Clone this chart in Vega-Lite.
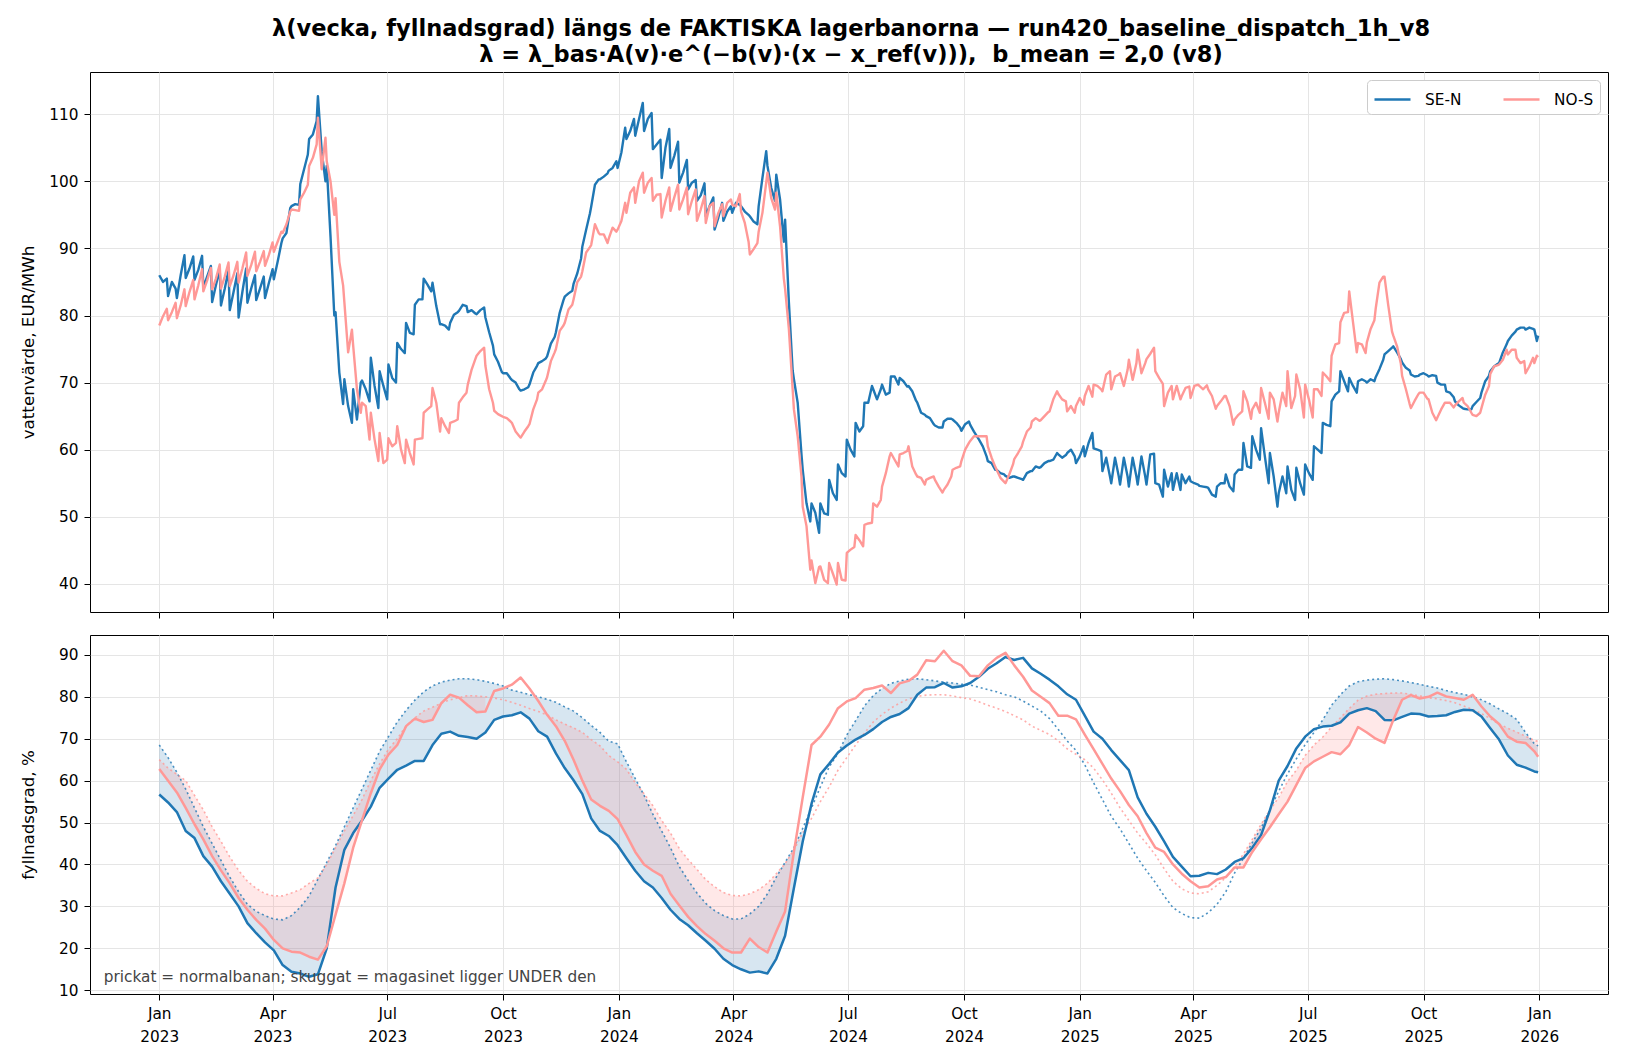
{
  "$schema": "https://vega.github.io/schema/vega-lite/v6.json",
  "background": "white",
  "padding": {"left": 19, "top": 18, "right": 0, "bottom": 0},
  "config": {
    "font": "DejaVu Sans",
    "view": {"stroke": "black", "strokeWidth": 1},
    "axis": {
      "domain": false, "tickColor": "black", "tickSize": 6, "labelPadding": 6,
      "labelFontSize": 15.3, "labelColor": "black", "labelFont": "DejaVu Sans",
      "titleFontSize": 16.7, "titleFontWeight": "normal", "titleColor": "black", "titleFont": "DejaVu Sans", "titlePadding": 8,
      "gridColor": "#e5e5e5", "gridWidth": 1
    }
  },
  "title": {
    "text": ["λ(vecka, fyllnadsgrad) längs de FAKTISKA lagerbanorna — run420_baseline_dispatch_1h_v8", "λ = λ_bas·A(v)·e^(−b(v)·(x − x_ref(v))),\u00a0 b_mean = 2,0 (v8)"],
    "fontSize": 22.5, "fontWeight": "bold", "lineHeight": 26, "anchor": "middle", "dx": 37, "offset": 5, "color": "black", "font": "DejaVu Sans"
  },
  "spacing": 15,
  "datasets": {
    "top": [
      {"t":"2023-01-01","SE-N":86.0,"NO-S":78.5},{"t":"2023-01-04","SE-N":85.0,"NO-S":79.9},{"t":"2023-01-07","SE-N":85.5,"NO-S":81.0},
      {"t":"2023-01-08","SE-N":82.9,"NO-S":79.3},{"t":"2023-01-11","SE-N":85.0,"NO-S":80.5},{"t":"2023-01-14","SE-N":84.0,"NO-S":81.9},
      {"t":"2023-01-15","SE-N":82.6,"NO-S":79.6},{"t":"2023-01-18","SE-N":86.0,"NO-S":81.5},{"t":"2023-01-21","SE-N":89.0,"NO-S":83.9},
      {"t":"2023-01-22","SE-N":85.6,"NO-S":81.4},{"t":"2023-01-25","SE-N":87.0,"NO-S":83.5},{"t":"2023-01-28","SE-N":88.8,"NO-S":85.3},
      {"t":"2023-01-29","SE-N":85.3,"NO-S":82.4},{"t":"2023-02-01","SE-N":86.8,"NO-S":84.5},{"t":"2023-02-04","SE-N":88.9,"NO-S":86.9},
      {"t":"2023-02-05","SE-N":84.2,"NO-S":83.6},{"t":"2023-02-08","SE-N":85.8,"NO-S":85.2},{"t":"2023-02-11","SE-N":87.4,"NO-S":87.1},
      {"t":"2023-02-12","SE-N":82.0,"NO-S":83.9},{"t":"2023-02-15","SE-N":84.5,"NO-S":85.5},{"t":"2023-02-18","SE-N":86.9,"NO-S":87.6},
      {"t":"2023-02-19","SE-N":81.5,"NO-S":84.0},{"t":"2023-02-22","SE-N":84.0,"NO-S":85.8},{"t":"2023-02-25","SE-N":86.8,"NO-S":87.9},
      {"t":"2023-02-26","SE-N":80.8,"NO-S":84.4},{"t":"2023-03-01","SE-N":83.5,"NO-S":86.0},{"t":"2023-03-04","SE-N":86.3,"NO-S":88.0},
      {"t":"2023-03-05","SE-N":79.7,"NO-S":84.9},{"t":"2023-03-08","SE-N":83.5,"NO-S":87.0},{"t":"2023-03-11","SE-N":87.0,"NO-S":89.4},
      {"t":"2023-03-12","SE-N":81.9,"NO-S":85.9},{"t":"2023-03-15","SE-N":84.0,"NO-S":87.5},{"t":"2023-03-18","SE-N":86.0,"NO-S":89.5},
      {"t":"2023-03-19","SE-N":82.3,"NO-S":86.6},{"t":"2023-03-22","SE-N":84.0,"NO-S":88.0},{"t":"2023-03-25","SE-N":85.8,"NO-S":89.6},
      {"t":"2023-03-26","SE-N":82.6,"NO-S":87.4},{"t":"2023-03-29","SE-N":84.8,"NO-S":89.0},{"t":"2023-04-01","SE-N":86.9,"NO-S":90.9},
      {"t":"2023-04-02","SE-N":85.4,"NO-S":89.5},{"t":"2023-04-05","SE-N":88.0,"NO-S":91.0},{"t":"2023-04-08","SE-N":90.8,"NO-S":92.5},
      {"t":"2023-04-09","SE-N":91.5,"NO-S":92.3},{"t":"2023-04-12","SE-N":92.3,"NO-S":93.6},{"t":"2023-04-15","SE-N":96.0,"NO-S":95.5},
      {"t":"2023-04-16","SE-N":96.3,"NO-S":95.8},{"t":"2023-04-19","SE-N":96.6,"NO-S":95.7},{"t":"2023-04-22","SE-N":96.5,"NO-S":95.6},
      {"t":"2023-04-23","SE-N":99.6,"NO-S":97.3},{"t":"2023-04-26","SE-N":101.8,"NO-S":98.3},{"t":"2023-04-29","SE-N":104.0,"NO-S":99.5},
      {"t":"2023-04-30","SE-N":106.3,"NO-S":102.3},{"t":"2023-05-03","SE-N":107.0,"NO-S":103.5},{"t":"2023-05-06","SE-N":109.0,"NO-S":105.5},
      {"t":"2023-05-07","SE-N":112.7,"NO-S":109.5},{"t":"2023-05-10","SE-N":104.5,"NO-S":101.8},{"t":"2023-05-13","SE-N":100.0,"NO-S":106.5},
      {"t":"2023-05-14","SE-N":102.3,"NO-S":103.0},{"t":"2023-05-17","SE-N":91.8,"NO-S":100.0},{"t":"2023-05-20","SE-N":80.0,"NO-S":95.0},
      {"t":"2023-05-21","SE-N":80.5,"NO-S":97.5},{"t":"2023-05-24","SE-N":71.5,"NO-S":88.0},{"t":"2023-05-27","SE-N":66.8,"NO-S":84.5},
      {"t":"2023-05-28","SE-N":70.5,"NO-S":82.0},{"t":"2023-05-31","SE-N":66.5,"NO-S":74.5},{"t":"2023-06-03","SE-N":64.0,"NO-S":77.9},
      {"t":"2023-06-04","SE-N":69.0,"NO-S":75.5},{"t":"2023-06-07","SE-N":64.5,"NO-S":69.0},{"t":"2023-06-10","SE-N":70.0,"NO-S":65.5},
      {"t":"2023-06-11","SE-N":70.3,"NO-S":67.0},{"t":"2023-06-14","SE-N":69.0,"NO-S":66.5},{"t":"2023-06-17","SE-N":67.2,"NO-S":61.5},
      {"t":"2023-06-18","SE-N":73.7,"NO-S":65.5},{"t":"2023-06-21","SE-N":69.5,"NO-S":61.5},{"t":"2023-06-24","SE-N":66.2,"NO-S":58.3},
      {"t":"2023-06-25","SE-N":71.7,"NO-S":62.5},{"t":"2023-06-28","SE-N":69.5,"NO-S":58.0},{"t":"2023-07-01","SE-N":67.5,"NO-S":58.5},
      {"t":"2023-07-02","SE-N":72.7,"NO-S":61.7},{"t":"2023-07-05","SE-N":70.7,"NO-S":60.5},{"t":"2023-07-08","SE-N":70.0,"NO-S":61.0},
      {"t":"2023-07-09","SE-N":75.9,"NO-S":63.5},{"t":"2023-07-12","SE-N":75.0,"NO-S":60.0},{"t":"2023-07-15","SE-N":74.4,"NO-S":58.0},
      {"t":"2023-07-16","SE-N":78.9,"NO-S":61.5},{"t":"2023-07-19","SE-N":77.4,"NO-S":59.5},{"t":"2023-07-22","SE-N":77.2,"NO-S":57.8},
      {"t":"2023-07-23","SE-N":81.6,"NO-S":61.5},{"t":"2023-07-26","SE-N":82.4,"NO-S":61.6},{"t":"2023-07-29","SE-N":82.4,"NO-S":61.7},
      {"t":"2023-07-30","SE-N":85.5,"NO-S":65.5},{"t":"2023-08-02","SE-N":84.6,"NO-S":66.0},{"t":"2023-08-05","SE-N":83.6,"NO-S":66.5},
      {"t":"2023-08-06","SE-N":84.9,"NO-S":69.2},{"t":"2023-08-09","SE-N":81.4,"NO-S":67.0},{"t":"2023-08-12","SE-N":78.7,"NO-S":62.7},
      {"t":"2023-08-13","SE-N":78.7,"NO-S":64.7},{"t":"2023-08-16","SE-N":78.5,"NO-S":63.5},{"t":"2023-08-19","SE-N":77.9,"NO-S":62.5},
      {"t":"2023-08-20","SE-N":78.9,"NO-S":64.0},{"t":"2023-08-23","SE-N":80.1,"NO-S":64.2},{"t":"2023-08-26","SE-N":80.5,"NO-S":64.5},
      {"t":"2023-08-27","SE-N":80.7,"NO-S":67.0},{"t":"2023-08-30","SE-N":81.6,"NO-S":67.8},{"t":"2023-09-02","SE-N":81.4,"NO-S":68.5},
      {"t":"2023-09-03","SE-N":80.5,"NO-S":69.7},{"t":"2023-09-06","SE-N":80.8,"NO-S":71.9},{"t":"2023-09-09","SE-N":80.3,"NO-S":73.5},
      {"t":"2023-09-10","SE-N":80.2,"NO-S":74.0},{"t":"2023-09-13","SE-N":80.8,"NO-S":74.7},{"t":"2023-09-16","SE-N":81.2,"NO-S":75.2},
      {"t":"2023-09-17","SE-N":79.7,"NO-S":72.5},{"t":"2023-09-20","SE-N":77.5,"NO-S":69.0},{"t":"2023-09-23","SE-N":75.5,"NO-S":67.0},
      {"t":"2023-09-24","SE-N":74.2,"NO-S":65.8},{"t":"2023-09-27","SE-N":73.1,"NO-S":65.3},{"t":"2023-09-30","SE-N":71.6,"NO-S":65.0},
      {"t":"2023-10-01","SE-N":71.4,"NO-S":64.9},{"t":"2023-10-04","SE-N":71.4,"NO-S":64.7},{"t":"2023-10-07","SE-N":70.6,"NO-S":64.2},
      {"t":"2023-10-08","SE-N":70.4,"NO-S":64.0},{"t":"2023-10-11","SE-N":70.0,"NO-S":62.7},{"t":"2023-10-14","SE-N":69.0,"NO-S":62.0},
      {"t":"2023-10-15","SE-N":68.8,"NO-S":61.8},{"t":"2023-10-18","SE-N":69.0,"NO-S":62.7},{"t":"2023-10-21","SE-N":69.3,"NO-S":63.5},
      {"t":"2023-10-22","SE-N":69.7,"NO-S":63.8},{"t":"2023-10-25","SE-N":71.5,"NO-S":66.0},{"t":"2023-10-28","SE-N":72.5,"NO-S":67.5},
      {"t":"2023-10-29","SE-N":72.9,"NO-S":68.5},{"t":"2023-11-01","SE-N":73.2,"NO-S":69.0},{"t":"2023-11-04","SE-N":73.6,"NO-S":70.3},
      {"t":"2023-11-05","SE-N":73.9,"NO-S":70.8},{"t":"2023-11-08","SE-N":75.8,"NO-S":73.2},{"t":"2023-11-11","SE-N":76.8,"NO-S":74.5},
      {"t":"2023-11-12","SE-N":77.5,"NO-S":75.0},{"t":"2023-11-15","SE-N":80.4,"NO-S":77.7},{"t":"2023-11-18","SE-N":82.3,"NO-S":78.5},
      {"t":"2023-11-19","SE-N":82.8,"NO-S":78.9},{"t":"2023-11-22","SE-N":83.3,"NO-S":80.9},{"t":"2023-11-25","SE-N":83.7,"NO-S":81.6},
      {"t":"2023-11-26","SE-N":84.7,"NO-S":82.4},{"t":"2023-11-29","SE-N":86.3,"NO-S":85.0},{"t":"2023-12-02","SE-N":88.5,"NO-S":85.8},
      {"t":"2023-12-03","SE-N":90.3,"NO-S":86.6},{"t":"2023-12-06","SE-N":92.8,"NO-S":89.4},{"t":"2023-12-09","SE-N":95.2,"NO-S":90.2},
      {"t":"2023-12-10","SE-N":96.2,"NO-S":90.5},{"t":"2023-12-13","SE-N":99.5,"NO-S":93.6},{"t":"2023-12-16","SE-N":100.3,"NO-S":92.3},
      {"t":"2023-12-17","SE-N":100.3,"NO-S":92.1},{"t":"2023-12-20","SE-N":100.7,"NO-S":92.1},{"t":"2023-12-23","SE-N":101.2,"NO-S":90.8},
      {"t":"2023-12-24","SE-N":101.6,"NO-S":91.5},{"t":"2023-12-27","SE-N":102.0,"NO-S":93.1},{"t":"2023-12-30","SE-N":103.0,"NO-S":92.5},
      {"t":"2023-12-31","SE-N":102.0,"NO-S":92.8},{"t":"2024-01-03","SE-N":104.3,"NO-S":94.1},{"t":"2024-01-06","SE-N":108.0,"NO-S":96.8},
      {"t":"2024-01-07","SE-N":106.3,"NO-S":95.3},{"t":"2024-01-10","SE-N":107.5,"NO-S":98.3},{"t":"2024-01-13","SE-N":109.3,"NO-S":99.1},
      {"t":"2024-01-14","SE-N":106.8,"NO-S":96.8},{"t":"2024-01-17","SE-N":109.3,"NO-S":100.0},{"t":"2024-01-20","SE-N":111.7,"NO-S":101.3},
      {"t":"2024-01-21","SE-N":107.5,"NO-S":98.3},{"t":"2024-01-24","SE-N":109.3,"NO-S":99.8},{"t":"2024-01-27","SE-N":110.2,"NO-S":100.5},
      {"t":"2024-01-28","SE-N":104.8,"NO-S":97.1},{"t":"2024-01-31","SE-N":105.5,"NO-S":98.0},{"t":"2024-02-03","SE-N":106.2,"NO-S":98.1},
      {"t":"2024-02-04","SE-N":100.5,"NO-S":94.6},{"t":"2024-02-07","SE-N":105.0,"NO-S":97.1},{"t":"2024-02-10","SE-N":107.8,"NO-S":99.1},
      {"t":"2024-02-11","SE-N":102.0,"NO-S":95.6},{"t":"2024-02-14","SE-N":103.8,"NO-S":97.6},{"t":"2024-02-17","SE-N":105.9,"NO-S":99.5},
      {"t":"2024-02-18","SE-N":99.8,"NO-S":95.8},{"t":"2024-02-21","SE-N":101.3,"NO-S":97.3},{"t":"2024-02-24","SE-N":103.2,"NO-S":99.1},
      {"t":"2024-02-25","SE-N":98.8,"NO-S":95.1},{"t":"2024-02-28","SE-N":99.8,"NO-S":97.1},{"t":"2024-03-02","SE-N":100.2,"NO-S":98.8},
      {"t":"2024-03-03","SE-N":97.1,"NO-S":94.1},{"t":"2024-03-06","SE-N":97.9,"NO-S":95.8},{"t":"2024-03-09","SE-N":99.7,"NO-S":97.8},
      {"t":"2024-03-10","SE-N":94.8,"NO-S":93.8},{"t":"2024-03-13","SE-N":96.3,"NO-S":96.3},{"t":"2024-03-16","SE-N":97.6,"NO-S":96.8},
      {"t":"2024-03-17","SE-N":92.8,"NO-S":93.3},{"t":"2024-03-20","SE-N":94.6,"NO-S":95.3},{"t":"2024-03-23","SE-N":96.8,"NO-S":96.6},
      {"t":"2024-03-24","SE-N":94.1,"NO-S":94.8},{"t":"2024-03-27","SE-N":95.5,"NO-S":96.8},{"t":"2024-03-30","SE-N":96.3,"NO-S":97.3},
      {"t":"2024-03-31","SE-N":95.3,"NO-S":96.5},{"t":"2024-04-03","SE-N":96.8,"NO-S":96.3},{"t":"2024-04-06","SE-N":96.5,"NO-S":98.1},
      {"t":"2024-04-07","SE-N":96.3,"NO-S":95.5},{"t":"2024-04-10","SE-N":95.5,"NO-S":93.8},{"t":"2024-04-13","SE-N":95.0,"NO-S":91.0},
      {"t":"2024-04-14","SE-N":94.8,"NO-S":89.1},{"t":"2024-04-17","SE-N":94.0,"NO-S":89.9},{"t":"2024-04-20","SE-N":93.6,"NO-S":90.8},
      {"t":"2024-04-21","SE-N":96.3,"NO-S":92.5},{"t":"2024-04-24","SE-N":100.5,"NO-S":95.3},{"t":"2024-04-27","SE-N":104.5,"NO-S":99.8},
      {"t":"2024-04-28","SE-N":102.3,"NO-S":101.3},{"t":"2024-05-01","SE-N":99.0,"NO-S":97.5},{"t":"2024-05-04","SE-N":97.1,"NO-S":95.8},
      {"t":"2024-05-05","SE-N":101.0,"NO-S":98.3},{"t":"2024-05-08","SE-N":97.3,"NO-S":93.3},{"t":"2024-05-11","SE-N":91.0,"NO-S":85.5},
      {"t":"2024-05-12","SE-N":94.3,"NO-S":84.0},{"t":"2024-05-15","SE-N":82.0,"NO-S":78.0},{"t":"2024-05-18","SE-N":71.8,"NO-S":69.0},
      {"t":"2024-05-19","SE-N":70.5,"NO-S":66.0},{"t":"2024-05-22","SE-N":67.0,"NO-S":62.0},{"t":"2024-05-25","SE-N":59.3,"NO-S":56.0},
      {"t":"2024-05-26","SE-N":57.0,"NO-S":51.5},{"t":"2024-05-29","SE-N":52.0,"NO-S":48.6},{"t":"2024-06-01","SE-N":49.3,"NO-S":42.1},
      {"t":"2024-06-02","SE-N":52.0,"NO-S":43.5},{"t":"2024-06-05","SE-N":50.6,"NO-S":40.1},{"t":"2024-06-08","SE-N":47.6,"NO-S":42.5},
      {"t":"2024-06-09","SE-N":52.0,"NO-S":42.6},{"t":"2024-06-12","SE-N":50.5,"NO-S":40.6},{"t":"2024-06-15","SE-N":50.3,"NO-S":40.1},
      {"t":"2024-06-16","SE-N":55.5,"NO-S":43.1},{"t":"2024-06-19","SE-N":53.5,"NO-S":41.5},{"t":"2024-06-22","SE-N":52.5,"NO-S":39.9},
      {"t":"2024-06-23","SE-N":57.8,"NO-S":43.1},{"t":"2024-06-26","SE-N":56.5,"NO-S":40.6},{"t":"2024-06-29","SE-N":56.0,"NO-S":40.5},
      {"t":"2024-06-30","SE-N":61.5,"NO-S":44.6},{"t":"2024-07-03","SE-N":60.0,"NO-S":45.1},{"t":"2024-07-06","SE-N":59.0,"NO-S":45.5},
      {"t":"2024-07-07","SE-N":64.0,"NO-S":47.3},{"t":"2024-07-10","SE-N":62.7,"NO-S":46.5},{"t":"2024-07-13","SE-N":63.5,"NO-S":45.6},
      {"t":"2024-07-14","SE-N":67.0,"NO-S":48.8},{"t":"2024-07-17","SE-N":67.0,"NO-S":49.0},{"t":"2024-07-20","SE-N":69.5,"NO-S":49.1},
      {"t":"2024-07-21","SE-N":69.0,"NO-S":52.0},{"t":"2024-07-24","SE-N":67.5,"NO-S":51.5},{"t":"2024-07-27","SE-N":69.0,"NO-S":52.5},
      {"t":"2024-07-28","SE-N":69.7,"NO-S":54.5},{"t":"2024-07-31","SE-N":68.2,"NO-S":56.5},{"t":"2024-08-03","SE-N":68.5,"NO-S":59.0},
      {"t":"2024-08-04","SE-N":70.9,"NO-S":59.5},{"t":"2024-08-07","SE-N":70.9,"NO-S":58.5},{"t":"2024-08-10","SE-N":69.7,"NO-S":57.5},
      {"t":"2024-08-11","SE-N":70.7,"NO-S":59.3},{"t":"2024-08-14","SE-N":70.2,"NO-S":59.5},{"t":"2024-08-17","SE-N":69.4,"NO-S":59.8},
      {"t":"2024-08-18","SE-N":69.5,"NO-S":60.5},{"t":"2024-08-21","SE-N":68.7,"NO-S":57.5},{"t":"2024-08-24","SE-N":67.3,"NO-S":56.3},
      {"t":"2024-08-25","SE-N":67.0,"NO-S":56.0},{"t":"2024-08-28","SE-N":65.5,"NO-S":55.8},{"t":"2024-08-31","SE-N":65.2,"NO-S":54.8},
      {"t":"2024-09-01","SE-N":65.0,"NO-S":55.5},{"t":"2024-09-04","SE-N":64.7,"NO-S":55.8},{"t":"2024-09-07","SE-N":63.8,"NO-S":56.0},
      {"t":"2024-09-08","SE-N":63.6,"NO-S":55.5},{"t":"2024-09-11","SE-N":63.3,"NO-S":54.5},{"t":"2024-09-14","SE-N":63.3,"NO-S":53.6},
      {"t":"2024-09-15","SE-N":64.2,"NO-S":54.0},{"t":"2024-09-18","SE-N":64.6,"NO-S":54.8},{"t":"2024-09-21","SE-N":64.6,"NO-S":56.0},
      {"t":"2024-09-22","SE-N":64.5,"NO-S":57.0},{"t":"2024-09-25","SE-N":64.0,"NO-S":57.3},{"t":"2024-09-28","SE-N":63.3,"NO-S":57.5},
      {"t":"2024-09-29","SE-N":62.8,"NO-S":58.3},{"t":"2024-10-02","SE-N":63.8,"NO-S":60.0},{"t":"2024-10-05","SE-N":64.2,"NO-S":61.0},
      {"t":"2024-10-06","SE-N":63.7,"NO-S":61.3},{"t":"2024-10-09","SE-N":62.7,"NO-S":62.0},{"t":"2024-10-12","SE-N":61.8,"NO-S":62.0},
      {"t":"2024-10-13","SE-N":61.5,"NO-S":62.0},{"t":"2024-10-16","SE-N":60.5,"NO-S":62.0},{"t":"2024-10-19","SE-N":59.0,"NO-S":62.0},
      {"t":"2024-10-20","SE-N":58.3,"NO-S":60.5},{"t":"2024-10-23","SE-N":58.0,"NO-S":58.8},{"t":"2024-10-26","SE-N":57.0,"NO-S":57.4},
      {"t":"2024-10-27","SE-N":57.0,"NO-S":57.0},{"t":"2024-10-30","SE-N":56.5,"NO-S":55.8},{"t":"2024-11-02","SE-N":56.3,"NO-S":55.2},
      {"t":"2024-11-03","SE-N":56.1,"NO-S":55.0},{"t":"2024-11-06","SE-N":55.8,"NO-S":56.3},{"t":"2024-11-09","SE-N":56.0,"NO-S":57.8},
      {"t":"2024-11-10","SE-N":56.0,"NO-S":58.6},{"t":"2024-11-13","SE-N":55.8,"NO-S":59.5},{"t":"2024-11-16","SE-N":55.6,"NO-S":60.5},
      {"t":"2024-11-17","SE-N":55.5,"NO-S":61.2},{"t":"2024-11-20","SE-N":56.5,"NO-S":62.7},{"t":"2024-11-23","SE-N":56.8,"NO-S":63.3},
      {"t":"2024-11-24","SE-N":56.8,"NO-S":64.2},{"t":"2024-11-27","SE-N":57.5,"NO-S":64.7},{"t":"2024-11-30","SE-N":57.3,"NO-S":64.3},
      {"t":"2024-12-01","SE-N":57.4,"NO-S":64.4},{"t":"2024-12-04","SE-N":58.0,"NO-S":65.0},{"t":"2024-12-07","SE-N":58.3,"NO-S":65.6},
      {"t":"2024-12-08","SE-N":58.3,"NO-S":65.7},{"t":"2024-12-11","SE-N":58.5,"NO-S":67.5},{"t":"2024-12-14","SE-N":59.5,"NO-S":68.7},
      {"t":"2024-12-15","SE-N":59.3,"NO-S":68.3},{"t":"2024-12-18","SE-N":58.8,"NO-S":67.5},{"t":"2024-12-21","SE-N":59.2,"NO-S":67.2},
      {"t":"2024-12-22","SE-N":59.5,"NO-S":65.7},{"t":"2024-12-25","SE-N":60.0,"NO-S":66.5},{"t":"2024-12-28","SE-N":59.0,"NO-S":65.5},
      {"t":"2024-12-29","SE-N":58.0,"NO-S":66.5},{"t":"2025-01-01","SE-N":59.0,"NO-S":67.7},{"t":"2025-01-04","SE-N":60.5,"NO-S":66.7},
      {"t":"2025-01-05","SE-N":59.0,"NO-S":68.0},{"t":"2025-01-08","SE-N":61.0,"NO-S":69.5},{"t":"2025-01-11","SE-N":62.5,"NO-S":67.9},
      {"t":"2025-01-12","SE-N":60.2,"NO-S":69.7},{"t":"2025-01-15","SE-N":60.0,"NO-S":69.5},{"t":"2025-01-18","SE-N":59.8,"NO-S":69.0},
      {"t":"2025-01-19","SE-N":56.8,"NO-S":68.7},{"t":"2025-01-22","SE-N":58.8,"NO-S":71.2},{"t":"2025-01-25","SE-N":56.0,"NO-S":71.7},
      {"t":"2025-01-26","SE-N":55.0,"NO-S":69.0},{"t":"2025-01-29","SE-N":58.8,"NO-S":70.9},{"t":"2025-02-01","SE-N":56.0,"NO-S":71.2},
      {"t":"2025-02-02","SE-N":54.8,"NO-S":71.4},{"t":"2025-02-05","SE-N":58.8,"NO-S":69.5},{"t":"2025-02-08","SE-N":56.0,"NO-S":71.9},
      {"t":"2025-02-09","SE-N":54.5,"NO-S":73.4},{"t":"2025-02-12","SE-N":58.8,"NO-S":70.4},{"t":"2025-02-15","SE-N":56.0,"NO-S":72.9},
      {"t":"2025-02-16","SE-N":54.8,"NO-S":74.9},{"t":"2025-02-19","SE-N":59.0,"NO-S":71.4},{"t":"2025-02-22","SE-N":56.0,"NO-S":72.9},
      {"t":"2025-02-23","SE-N":54.8,"NO-S":73.5},{"t":"2025-02-26","SE-N":59.3,"NO-S":74.3},{"t":"2025-03-01","SE-N":59.4,"NO-S":75.2},
      {"t":"2025-03-02","SE-N":55.0,"NO-S":71.7},{"t":"2025-03-05","SE-N":54.8,"NO-S":70.7},{"t":"2025-03-08","SE-N":53.0,"NO-S":69.8},
      {"t":"2025-03-09","SE-N":57.0,"NO-S":66.5},{"t":"2025-03-12","SE-N":54.5,"NO-S":68.5},{"t":"2025-03-15","SE-N":56.5,"NO-S":69.5},
      {"t":"2025-03-16","SE-N":54.0,"NO-S":67.5},{"t":"2025-03-19","SE-N":56.5,"NO-S":69.5},{"t":"2025-03-22","SE-N":54.0,"NO-S":67.5},
      {"t":"2025-03-23","SE-N":56.3,"NO-S":68.0},{"t":"2025-03-26","SE-N":55.0,"NO-S":69.2},{"t":"2025-03-29","SE-N":56.0,"NO-S":69.4},
      {"t":"2025-03-30","SE-N":55.3,"NO-S":67.7},{"t":"2025-04-02","SE-N":55.0,"NO-S":69.5},{"t":"2025-04-05","SE-N":54.8,"NO-S":69.7},
      {"t":"2025-04-06","SE-N":54.6,"NO-S":69.5},{"t":"2025-04-09","SE-N":54.5,"NO-S":69.0},{"t":"2025-04-12","SE-N":54.4,"NO-S":69.6},
      {"t":"2025-04-13","SE-N":54.3,"NO-S":69.0},{"t":"2025-04-16","SE-N":53.3,"NO-S":68.0},{"t":"2025-04-19","SE-N":53.0,"NO-S":66.1},
      {"t":"2025-04-20","SE-N":54.5,"NO-S":66.5},{"t":"2025-04-23","SE-N":55.0,"NO-S":67.2},{"t":"2025-04-26","SE-N":55.0,"NO-S":68.0},
      {"t":"2025-04-27","SE-N":56.3,"NO-S":68.0},{"t":"2025-04-30","SE-N":54.5,"NO-S":66.5},{"t":"2025-05-03","SE-N":53.8,"NO-S":63.7},
      {"t":"2025-05-04","SE-N":56.3,"NO-S":64.5},{"t":"2025-05-07","SE-N":57.0,"NO-S":65.2},{"t":"2025-05-10","SE-N":57.0,"NO-S":65.7},
      {"t":"2025-05-11","SE-N":61.0,"NO-S":68.7},{"t":"2025-05-14","SE-N":57.5,"NO-S":67.2},{"t":"2025-05-17","SE-N":57.3,"NO-S":64.6},
      {"t":"2025-05-18","SE-N":62.0,"NO-S":66.0},{"t":"2025-05-21","SE-N":60.0,"NO-S":67.0},{"t":"2025-05-24","SE-N":58.5,"NO-S":65.5},
      {"t":"2025-05-25","SE-N":63.2,"NO-S":69.2},{"t":"2025-05-28","SE-N":59.0,"NO-S":67.0},{"t":"2025-05-31","SE-N":55.0,"NO-S":64.6},
      {"t":"2025-06-01","SE-N":59.5,"NO-S":68.5},{"t":"2025-06-04","SE-N":56.0,"NO-S":67.5},{"t":"2025-06-07","SE-N":51.5,"NO-S":64.2},
      {"t":"2025-06-08","SE-N":53.5,"NO-S":65.5},{"t":"2025-06-11","SE-N":56.0,"NO-S":68.5},{"t":"2025-06-14","SE-N":53.5,"NO-S":66.5},
      {"t":"2025-06-15","SE-N":57.5,"NO-S":71.7},{"t":"2025-06-18","SE-N":54.0,"NO-S":66.2},{"t":"2025-06-21","SE-N":52.5,"NO-S":68.0},
      {"t":"2025-06-22","SE-N":57.3,"NO-S":71.2},{"t":"2025-06-25","SE-N":55.0,"NO-S":69.0},{"t":"2025-06-28","SE-N":53.3,"NO-S":64.8},
      {"t":"2025-06-29","SE-N":57.8,"NO-S":69.7},{"t":"2025-07-02","SE-N":56.5,"NO-S":67.5},{"t":"2025-07-05","SE-N":55.5,"NO-S":64.8},
      {"t":"2025-07-06","SE-N":60.5,"NO-S":69.0},{"t":"2025-07-09","SE-N":60.0,"NO-S":69.0},{"t":"2025-07-12","SE-N":59.5,"NO-S":68.0},
      {"t":"2025-07-13","SE-N":64.0,"NO-S":71.5},{"t":"2025-07-16","SE-N":63.7,"NO-S":70.9},{"t":"2025-07-19","SE-N":63.5,"NO-S":70.2},
      {"t":"2025-07-20","SE-N":67.2,"NO-S":74.0},{"t":"2025-07-23","SE-N":68.2,"NO-S":75.7},{"t":"2025-07-26","SE-N":68.7,"NO-S":75.9},
      {"t":"2025-07-27","SE-N":71.7,"NO-S":79.0},{"t":"2025-07-30","SE-N":70.2,"NO-S":80.4},{"t":"2025-08-02","SE-N":68.7,"NO-S":80.5},
      {"t":"2025-08-03","SE-N":70.7,"NO-S":83.6},{"t":"2025-08-06","SE-N":69.5,"NO-S":79.0},{"t":"2025-08-09","SE-N":68.5,"NO-S":74.5},
      {"t":"2025-08-10","SE-N":70.2,"NO-S":75.9},{"t":"2025-08-13","SE-N":70.5,"NO-S":75.7},{"t":"2025-08-16","SE-N":70.2,"NO-S":74.4},
      {"t":"2025-08-17","SE-N":70.0,"NO-S":76.0},{"t":"2025-08-20","SE-N":70.5,"NO-S":78.0},{"t":"2025-08-23","SE-N":70.2,"NO-S":79.3},
      {"t":"2025-08-24","SE-N":70.8,"NO-S":81.0},{"t":"2025-08-27","SE-N":72.0,"NO-S":84.9},{"t":"2025-08-30","SE-N":73.4,"NO-S":85.8},
      {"t":"2025-08-31","SE-N":74.2,"NO-S":85.8},{"t":"2025-09-03","SE-N":74.7,"NO-S":81.5},{"t":"2025-09-06","SE-N":75.2,"NO-S":77.6},
      {"t":"2025-09-07","SE-N":75.4,"NO-S":77.0},{"t":"2025-09-10","SE-N":74.5,"NO-S":75.4},{"t":"2025-09-13","SE-N":73.5,"NO-S":72.8},
      {"t":"2025-09-14","SE-N":73.0,"NO-S":71.0},{"t":"2025-09-17","SE-N":72.2,"NO-S":69.0},{"t":"2025-09-20","SE-N":71.8,"NO-S":66.8},
      {"t":"2025-09-21","SE-N":71.2,"NO-S":66.2},{"t":"2025-09-24","SE-N":70.9,"NO-S":67.3},{"t":"2025-09-27","SE-N":71.0,"NO-S":68.3},
      {"t":"2025-09-28","SE-N":71.2,"NO-S":68.5},{"t":"2025-10-01","SE-N":71.4,"NO-S":68.5},{"t":"2025-10-04","SE-N":71.1,"NO-S":67.6},
      {"t":"2025-10-05","SE-N":70.9,"NO-S":67.5},{"t":"2025-10-08","SE-N":71.1,"NO-S":65.5},{"t":"2025-10-11","SE-N":71.0,"NO-S":64.4},
      {"t":"2025-10-12","SE-N":70.0,"NO-S":64.8},{"t":"2025-10-15","SE-N":69.7,"NO-S":66.0},{"t":"2025-10-18","SE-N":69.7,"NO-S":67.0},
      {"t":"2025-10-19","SE-N":68.7,"NO-S":67.0},{"t":"2025-10-22","SE-N":68.5,"NO-S":67.0},{"t":"2025-10-25","SE-N":67.8,"NO-S":66.3},
      {"t":"2025-10-26","SE-N":67.2,"NO-S":66.6},{"t":"2025-10-29","SE-N":66.6,"NO-S":67.2},{"t":"2025-11-01","SE-N":66.2,"NO-S":67.7},
      {"t":"2025-11-02","SE-N":66.1,"NO-S":67.0},{"t":"2025-11-05","SE-N":66.0,"NO-S":66.5},{"t":"2025-11-08","SE-N":66.0,"NO-S":65.5},
      {"t":"2025-11-09","SE-N":66.5,"NO-S":65.2},{"t":"2025-11-12","SE-N":67.1,"NO-S":65.0},{"t":"2025-11-15","SE-N":67.7,"NO-S":65.5},
      {"t":"2025-11-16","SE-N":68.5,"NO-S":66.2},{"t":"2025-11-19","SE-N":70.2,"NO-S":68.2},{"t":"2025-11-22","SE-N":71.0,"NO-S":69.5},
      {"t":"2025-11-23","SE-N":71.7,"NO-S":71.3},{"t":"2025-11-26","SE-N":72.4,"NO-S":72.4},{"t":"2025-11-29","SE-N":72.8,"NO-S":72.6},
      {"t":"2025-11-30","SE-N":72.9,"NO-S":72.7},{"t":"2025-12-03","SE-N":74.5,"NO-S":73.4},{"t":"2025-12-06","SE-N":75.7,"NO-S":74.9},
      {"t":"2025-12-07","SE-N":76.2,"NO-S":74.2},{"t":"2025-12-10","SE-N":77.0,"NO-S":74.9},{"t":"2025-12-13","SE-N":77.6,"NO-S":74.9},
      {"t":"2025-12-14","SE-N":77.9,"NO-S":73.7},{"t":"2025-12-17","SE-N":78.2,"NO-S":72.9},{"t":"2025-12-20","SE-N":78.2,"NO-S":73.2},
      {"t":"2025-12-21","SE-N":77.9,"NO-S":71.4},{"t":"2025-12-24","SE-N":78.2,"NO-S":72.4},{"t":"2025-12-27","SE-N":78.0,"NO-S":73.7},
      {"t":"2025-12-28","SE-N":77.9,"NO-S":72.9},{"t":"2025-12-30","SE-N":76.2,"NO-S":74.0},{"t":"2025-12-31","SE-N":77.0,"NO-S":73.8}
    ],
    "bot": [
      {"t":"2023-01-01","sa":56.7,"na":62.8,"sn":68.5,"nn":65.0,"gs":1,"gn":1},
      {"t":"2023-01-08","sa":54.8,"na":60.0,"sn":65.5,"nn":63.0,"gs":1,"gn":1},
      {"t":"2023-01-15","sa":52.5,"na":57.2,"sn":62.0,"nn":61.5,"gs":1,"gn":1},
      {"t":"2023-01-22","sa":48.0,"na":53.5,"sn":58.0,"nn":60.0,"gs":1,"gn":1},
      {"t":"2023-01-29","sa":46.3,"na":49.6,"sn":53.5,"nn":56.5,"gs":1,"gn":1},
      {"t":"2023-02-05","sa":42.0,"na":46.0,"sn":49.0,"nn":53.0,"gs":1,"gn":1},
      {"t":"2023-02-12","sa":39.5,"na":42.0,"sn":45.0,"nn":49.0,"gs":1,"gn":1},
      {"t":"2023-02-19","sa":36.0,"na":38.6,"sn":41.0,"nn":45.5,"gs":1,"gn":1},
      {"t":"2023-02-26","sa":33.0,"na":35.5,"sn":37.0,"nn":41.8,"gs":1,"gn":1},
      {"t":"2023-03-05","sa":30.0,"na":32.0,"sn":33.5,"nn":38.6,"gs":1,"gn":1},
      {"t":"2023-03-12","sa":26.0,"na":29.2,"sn":30.5,"nn":36.0,"gs":1,"gn":1},
      {"t":"2023-03-19","sa":23.6,"na":26.8,"sn":28.8,"nn":34.3,"gs":1,"gn":1},
      {"t":"2023-03-26","sa":21.4,"na":24.7,"sn":27.8,"nn":33.0,"gs":1,"gn":1},
      {"t":"2023-04-02","sa":19.5,"na":22.0,"sn":27.0,"nn":32.5,"gs":1,"gn":1},
      {"t":"2023-04-09","sa":16.0,"na":20.0,"sn":26.8,"nn":32.5,"gs":1,"gn":1},
      {"t":"2023-04-16","sa":14.4,"na":19.2,"sn":27.8,"nn":33.2,"gs":1,"gn":1},
      {"t":"2023-04-23","sa":14.0,"na":19.0,"sn":29.8,"nn":34.0,"gs":1,"gn":1},
      {"t":"2023-04-30","sa":13.2,"na":18.0,"sn":32.5,"nn":35.5,"gs":1,"gn":1},
      {"t":"2023-05-07","sa":13.8,"na":17.3,"sn":36.5,"nn":36.8,"gs":1,"gn":1},
      {"t":"2023-05-14","sa":20.0,"na":20.5,"sn":40.5,"nn":40.0,"gs":1,"gn":1},
      {"t":"2023-05-21","sa":34.5,"na":28.0,"sn":44.5,"nn":44.0,"gs":1,"gn":1},
      {"t":"2023-05-28","sa":43.5,"na":35.5,"sn":49.0,"nn":48.0,"gs":1,"gn":1},
      {"t":"2023-06-04","sa":47.5,"na":44.0,"sn":53.5,"nn":51.7,"gs":1,"gn":1},
      {"t":"2023-06-11","sa":50.5,"na":50.5,"sn":58.0,"nn":55.5,"gs":1,"gn":1},
      {"t":"2023-06-18","sa":53.8,"na":57.0,"sn":62.5,"nn":60.0,"gs":1,"gn":1},
      {"t":"2023-06-25","sa":58.3,"na":62.7,"sn":67.0,"nn":64.0,"gs":1,"gn":1},
      {"t":"2023-07-02","sa":60.5,"na":66.2,"sn":70.5,"nn":67.5,"gs":1,"gn":1},
      {"t":"2023-07-09","sa":62.6,"na":68.5,"sn":74.0,"nn":70.0,"gs":1,"gn":1},
      {"t":"2023-07-16","sa":63.6,"na":73.0,"sn":76.8,"nn":73.0,"gs":1,"gn":1},
      {"t":"2023-07-23","sa":64.7,"na":74.8,"sn":79.2,"nn":75.0,"gs":1,"gn":1},
      {"t":"2023-07-30","sa":64.7,"na":74.0,"sn":81.2,"nn":76.6,"gs":1,"gn":1},
      {"t":"2023-08-06","sa":68.5,"na":74.5,"sn":82.6,"nn":77.5,"gs":1,"gn":1},
      {"t":"2023-08-13","sa":71.2,"na":78.5,"sn":83.5,"nn":78.5,"gs":1,"gn":1},
      {"t":"2023-08-20","sa":71.7,"na":80.5,"sn":84.0,"nn":79.3,"gs":1},
      {"t":"2023-08-27","sa":70.7,"na":79.8,"sn":84.3,"nn":79.8,"gs":1,"gn":2},
      {"t":"2023-09-03","sa":70.4,"na":78.0,"sn":84.3,"nn":80.3,"gs":1,"gn":2},
      {"t":"2023-09-10","sa":70.0,"na":76.3,"sn":84.1,"nn":80.2,"gs":1,"gn":2},
      {"t":"2023-09-17","sa":71.5,"na":76.5,"sn":83.7,"nn":80.0,"gs":1,"gn":2},
      {"t":"2023-09-24","sa":74.5,"na":81.4,"sn":83.2,"nn":79.7,"gs":1},
      {"t":"2023-10-01","sa":75.3,"na":82.0,"sn":82.6,"nn":79.3,"gs":1},
      {"t":"2023-10-08","sa":75.6,"na":82.9,"sn":81.6,"nn":78.7,"gs":1},
      {"t":"2023-10-15","sa":76.3,"na":84.6,"sn":81.1,"nn":78.0,"gs":1},
      {"t":"2023-10-22","sa":74.8,"na":82.0,"sn":80.5,"nn":77.2,"gs":1},
      {"t":"2023-10-29","sa":71.8,"na":79.0,"sn":80.0,"nn":76.5,"gs":1},
      {"t":"2023-11-05","sa":70.5,"na":75.7,"sn":79.4,"nn":75.7,"gs":1,"gn":3},
      {"t":"2023-11-12","sa":66.5,"na":73.0,"sn":78.7,"nn":74.5,"gs":1,"gn":3},
      {"t":"2023-11-19","sa":63.0,"na":69.5,"sn":77.6,"nn":73.5,"gs":1,"gn":3},
      {"t":"2023-11-26","sa":60.1,"na":65.0,"sn":76.6,"nn":72.6,"gs":1,"gn":3},
      {"t":"2023-12-03","sa":56.8,"na":60.0,"sn":75.0,"nn":71.5,"gs":1,"gn":3},
      {"t":"2023-12-10","sa":51.0,"na":55.5,"sn":73.2,"nn":69.8,"gs":1,"gn":3},
      {"t":"2023-12-17","sa":48.0,"na":54.0,"sn":71.5,"nn":68.3,"gs":1,"gn":3},
      {"t":"2023-12-24","sa":46.8,"na":52.8,"sn":69.4,"nn":66.0,"gs":1,"gn":3},
      {"t":"2023-12-31","sa":44.6,"na":50.8,"sn":68.8,"nn":64.5,"gs":1,"gn":3},
      {"t":"2024-01-07","sa":41.5,"na":47.0,"sn":64.5,"nn":62.7,"gs":1,"gn":3},
      {"t":"2024-01-14","sa":38.5,"na":43.0,"sn":60.5,"nn":59.5,"gs":1,"gn":3},
      {"t":"2024-01-21","sa":36.0,"na":40.0,"sn":56.5,"nn":56.9,"gs":1,"gn":3},
      {"t":"2024-01-28","sa":34.5,"na":38.5,"sn":52.0,"nn":54.0,"gs":1,"gn":3},
      {"t":"2024-02-04","sa":32.0,"na":37.3,"sn":48.0,"nn":50.5,"gs":1,"gn":3},
      {"t":"2024-02-11","sa":29.2,"na":33.0,"sn":44.0,"nn":47.5,"gs":1,"gn":3},
      {"t":"2024-02-18","sa":27.0,"na":30.2,"sn":39.5,"nn":43.8,"gs":1,"gn":3},
      {"t":"2024-02-25","sa":25.5,"na":27.5,"sn":36.2,"nn":41.2,"gs":1,"gn":3},
      {"t":"2024-03-03","sa":23.6,"na":25.3,"sn":33.2,"nn":38.8,"gs":1,"gn":3},
      {"t":"2024-03-10","sa":21.8,"na":23.4,"sn":30.7,"nn":36.4,"gs":1,"gn":3},
      {"t":"2024-03-17","sa":19.9,"na":21.8,"sn":29.0,"nn":34.7,"gs":1,"gn":3},
      {"t":"2024-03-24","sa":17.5,"na":20.0,"sn":27.8,"nn":33.3,"gs":1,"gn":3},
      {"t":"2024-03-31","sa":16.0,"na":19.0,"sn":27.0,"nn":32.6,"gs":1,"gn":3},
      {"t":"2024-04-07","sa":15.0,"na":19.0,"sn":27.0,"nn":32.5,"gs":1,"gn":3},
      {"t":"2024-04-14","sa":14.2,"na":22.3,"sn":28.2,"nn":33.0,"gs":1,"gn":3},
      {"t":"2024-04-21","sa":14.5,"na":20.3,"sn":30.0,"nn":34.0,"gs":1,"gn":3},
      {"t":"2024-04-28","sa":14.0,"na":19.0,"sn":33.0,"nn":35.5,"gs":1,"gn":3},
      {"t":"2024-05-05","sa":17.5,"na":24.0,"sn":37.0,"nn":37.8,"gs":1,"gn":3},
      {"t":"2024-05-12","sa":23.0,"na":28.8,"sn":40.5,"nn":40.2,"gs":1,"gn":3},
      {"t":"2024-05-19","sa":34.4,"na":43.0,"sn":44.0,"nn":43.5,"gs":1,"gn":3},
      {"t":"2024-05-26","sa":45.5,"na":56.0,"sn":48.6,"nn":47.5,"gs":1},
      {"t":"2024-06-02","sa":54.5,"na":68.5,"sn":53.5,"nn":51.0},
      {"t":"2024-06-09","sa":61.5,"na":70.5,"sn":58.5,"nn":55.0},
      {"t":"2024-06-16","sa":64.0,"na":73.4,"sn":63.3,"nn":58.5,"gs":2},
      {"t":"2024-06-23","sa":66.7,"na":77.3,"sn":66.5,"nn":62.5,"gs":2},
      {"t":"2024-06-30","sa":68.4,"na":78.9,"sn":70.9,"nn":65.5,"gs":2},
      {"t":"2024-07-07","sa":69.8,"na":79.7,"sn":74.3,"nn":68.5,"gs":2},
      {"t":"2024-07-14","sa":70.9,"na":81.7,"sn":77.8,"nn":71.3,"gs":2},
      {"t":"2024-07-21","sa":72.3,"na":82.1,"sn":80.3,"nn":74.0,"gs":2},
      {"t":"2024-07-28","sa":74.0,"na":82.7,"sn":82.0,"nn":75.8,"gs":2},
      {"t":"2024-08-04","sa":75.2,"na":80.9,"sn":83.2,"nn":77.3,"gs":2},
      {"t":"2024-08-11","sa":75.9,"na":83.2,"sn":83.8,"nn":78.5,"gs":2},
      {"t":"2024-08-18","sa":77.3,"na":83.8,"sn":84.2,"nn":79.5,"gs":2},
      {"t":"2024-08-25","sa":80.5,"na":85.3,"sn":84.3,"nn":80.1,"gs":2},
      {"t":"2024-09-01","sa":82.2,"na":88.7,"sn":84.1,"nn":80.4,"gs":2},
      {"t":"2024-09-08","sa":82.3,"na":88.5,"sn":83.8,"nn":80.5,"gs":2},
      {"t":"2024-09-15","sa":83.3,"na":91.0,"sn":83.5,"nn":80.5,"gs":2},
      {"t":"2024-09-22","sa":82.2,"na":88.5,"sn":83.3,"nn":80.2,"gs":2},
      {"t":"2024-09-29","sa":82.5,"na":87.5,"sn":83.0,"nn":79.8,"gs":2},
      {"t":"2024-10-06","sa":83.3,"na":85.0,"sn":82.8,"nn":79.5},
      {"t":"2024-10-13","sa":84.8,"na":84.9,"sn":82.3,"nn":78.8},
      {"t":"2024-10-20","sa":86.7,"na":87.5,"sn":81.7,"nn":78.0},
      {"t":"2024-10-27","sa":88.0,"na":89.3,"sn":81.2,"nn":77.3},
      {"t":"2024-11-03","sa":89.5,"na":90.5,"sn":80.5,"nn":76.5},
      {"t":"2024-11-10","sa":88.8,"na":87.5,"sn":80.0,"nn":75.5},
      {"t":"2024-11-17","sa":89.3,"na":84.8,"sn":79.0,"nn":74.5},
      {"t":"2024-11-24","sa":86.8,"na":81.5,"sn":77.8,"nn":73.0},
      {"t":"2024-12-01","sa":85.5,"na":80.0,"sn":76.6,"nn":72.0},
      {"t":"2024-12-08","sa":84.1,"na":78.5,"sn":74.8,"nn":71.0},
      {"t":"2024-12-15","sa":82.5,"na":75.5,"sn":72.2,"nn":69.5},
      {"t":"2024-12-22","sa":80.6,"na":75.5,"sn":69.5,"nn":67.6},
      {"t":"2024-12-29","sa":79.3,"na":74.6,"sn":67.2,"nn":66.3},
      {"t":"2025-01-05","sa":75.5,"na":71.0,"sn":63.8,"nn":65.0},
      {"t":"2025-01-12","sa":71.7,"na":67.5,"sn":59.5,"nn":63.0},
      {"t":"2025-01-19","sa":70.0,"na":64.0,"sn":55.5,"nn":60.2},
      {"t":"2025-01-26","sa":67.3,"na":60.5,"sn":51.5,"nn":57.0},
      {"t":"2025-02-02","sa":64.9,"na":57.5,"sn":48.5,"nn":53.5},
      {"t":"2025-02-09","sa":62.5,"na":54.2,"sn":45.0,"nn":50.5},
      {"t":"2025-02-16","sa":56.0,"na":51.5,"sn":41.5,"nn":47.5},
      {"t":"2025-02-23","sa":52.1,"na":47.5,"sn":38.5,"nn":45.0},
      {"t":"2025-03-02","sa":49.0,"na":44.0,"sn":35.7,"nn":42.3},
      {"t":"2025-03-09","sa":45.5,"na":43.0,"sn":32.5,"nn":39.0},
      {"t":"2025-03-16","sa":41.8,"na":40.0,"sn":29.7,"nn":36.0},
      {"t":"2025-03-23","sa":39.5,"na":37.8,"sn":28.3,"nn":34.2},
      {"t":"2025-03-30","sa":37.2,"na":36.0,"sn":27.3,"nn":33.2},
      {"t":"2025-04-06","sa":37.3,"na":34.5,"sn":27.2,"nn":33.0},
      {"t":"2025-04-13","sa":38.0,"na":34.8,"sn":28.5,"nn":33.5},
      {"t":"2025-04-20","sa":37.7,"na":36.4,"sn":30.5,"nn":35.0},
      {"t":"2025-04-27","sa":38.8,"na":37.0,"sn":33.5,"nn":36.9,"gn":4},
      {"t":"2025-05-04","sa":40.6,"na":39.3,"sn":38.0,"nn":39.5,"gn":4},
      {"t":"2025-05-11","sa":41.5,"na":39.3,"sn":41.5,"nn":42.5,"gs":3,"gn":4},
      {"t":"2025-05-18","sa":44.0,"na":43.0,"sn":45.2,"nn":46.0,"gs":3,"gn":4},
      {"t":"2025-05-25","sa":47.0,"na":46.0,"sn":48.7,"nn":49.6,"gs":3,"gn":4},
      {"t":"2025-06-01","sa":52.9,"na":48.9,"sn":53.0,"nn":53.0,"gs":3,"gn":4},
      {"t":"2025-06-08","sa":60.0,"na":52.0,"sn":57.5,"nn":56.0,"gn":4},
      {"t":"2025-06-15","sa":63.5,"na":55.0,"sn":61.6,"nn":59.8,"gn":4},
      {"t":"2025-06-22","sa":67.7,"na":59.0,"sn":65.2,"nn":62.5,"gn":4},
      {"t":"2025-06-29","sa":70.5,"na":63.0,"sn":68.6,"nn":66.0,"gn":4},
      {"t":"2025-07-06","sa":72.3,"na":64.6,"sn":71.5,"nn":68.5,"gs":4,"gn":4},
      {"t":"2025-07-13","sa":72.9,"na":65.7,"sn":74.5,"nn":70.4,"gs":4,"gn":4},
      {"t":"2025-07-20","sa":73.1,"na":66.8,"sn":78.0,"nn":72.8,"gs":4,"gn":4},
      {"t":"2025-07-27","sa":73.9,"na":66.3,"sn":80.5,"nn":75.0,"gs":4,"gn":4},
      {"t":"2025-08-03","sa":76.0,"na":68.5,"sn":82.6,"nn":77.2,"gs":4,"gn":4},
      {"t":"2025-08-10","sa":76.8,"na":72.8,"sn":83.6,"nn":79.2,"gs":4,"gn":4},
      {"t":"2025-08-17","sa":77.3,"na":71.5,"sn":84.0,"nn":80.2,"gs":4,"gn":4},
      {"t":"2025-08-24","sa":76.6,"na":70.0,"sn":84.2,"nn":80.6,"gs":4,"gn":4},
      {"t":"2025-08-31","sa":74.5,"na":69.0,"sn":84.3,"nn":80.8,"gs":4,"gn":4},
      {"t":"2025-09-07","sa":74.4,"na":74.5,"sn":84.1,"nn":80.9,"gs":4,"gn":4},
      {"t":"2025-09-14","sa":75.2,"na":79.3,"sn":83.8,"nn":80.9,"gs":4,"gn":4},
      {"t":"2025-09-21","sa":76.0,"na":80.4,"sn":83.4,"nn":80.6,"gs":4,"gn":4},
      {"t":"2025-09-28","sa":75.9,"na":79.6,"sn":83.0,"nn":80.2,"gs":4,"gn":4},
      {"t":"2025-10-05","sa":75.3,"na":80.0,"sn":82.5,"nn":79.8,"gs":4,"gn":4},
      {"t":"2025-10-12","sa":75.4,"na":81.0,"sn":82.1,"nn":79.5,"gs":4},
      {"t":"2025-10-19","sa":75.6,"na":80.1,"sn":81.5,"nn":79.1,"gs":4},
      {"t":"2025-10-26","sa":76.4,"na":79.7,"sn":81.0,"nn":78.6,"gs":4},
      {"t":"2025-11-02","sa":76.9,"na":79.3,"sn":80.6,"nn":77.8,"gs":4},
      {"t":"2025-11-09","sa":76.8,"na":80.5,"sn":80.0,"nn":77.0,"gs":4},
      {"t":"2025-11-16","sa":75.3,"na":77.7,"sn":79.3,"nn":76.0,"gs":4},
      {"t":"2025-11-23","sa":72.5,"na":75.3,"sn":78.3,"nn":74.8,"gs":4},
      {"t":"2025-11-30","sa":69.8,"na":73.5,"sn":77.1,"nn":73.5,"gs":4,"gn":5},
      {"t":"2025-12-07","sa":66.0,"na":70.5,"sn":76.0,"nn":72.5,"gs":4,"gn":5},
      {"t":"2025-12-14","sa":63.8,"na":69.3,"sn":74.6,"nn":71.6,"gs":4,"gn":5},
      {"t":"2025-12-21","sa":63.1,"na":69.0,"sn":71.5,"nn":70.6,"gs":4,"gn":5},
      {"t":"2025-12-28","sa":62.2,"na":67.0,"sn":68.8,"nn":69.6,"gs":4,"gn":5},
      {"t":"2025-12-31","sa":62.0,"na":65.7,"sn":68.3,"nn":69.4,"gs":4,"gn":5}
    ],
    "note": [
      {"t":"2022-11-18","v":13.2,"txt":"prickat = normalbanan; skuggat = magasinet ligger UNDER den"}
    ]
  },
  "vconcat": [
    {
      "width": 1518,
      "height": 540,
      "data": {"name": "top"},
      "transform": [{"fold": ["SE-N", "NO-S"], "as": ["zon", "v"]}],
      "mark": {"type": "line", "strokeWidth": 2.4, "strokeJoin": "round"},
      "encoding": {
        "x": {
          "field": "t", "type": "temporal",
          "scale": {"type": "utc", "domain": [{"year": 2022, "month": 11, "date": 7, "utc": true}, {"year": 2026, "month": 2, "date": 24, "hours": 12, "utc": true}]},
          "axis": {
            "title": null, "labels": false, "grid": true,
            "values": [
              {"year": 2023, "month": 1, "date": 1, "utc": true}, {"year": 2023, "month": 4, "date": 1, "utc": true}, {"year": 2023, "month": 7, "date": 1, "utc": true}, {"year": 2023, "month": 10, "date": 1, "utc": true},
              {"year": 2024, "month": 1, "date": 1, "utc": true}, {"year": 2024, "month": 4, "date": 1, "utc": true}, {"year": 2024, "month": 7, "date": 1, "utc": true}, {"year": 2024, "month": 10, "date": 1, "utc": true},
              {"year": 2025, "month": 1, "date": 1, "utc": true}, {"year": 2025, "month": 4, "date": 1, "utc": true}, {"year": 2025, "month": 7, "date": 1, "utc": true}, {"year": 2025, "month": 10, "date": 1, "utc": true},
              {"year": 2026, "month": 1, "date": 1, "utc": true}
            ]
          }
        },
        "y": {
          "field": "v", "type": "quantitative",
          "scale": {"domain": [35.8, 116.3], "nice": false, "zero": false},
          "axis": {"title": "vattenvärde, EUR/MWh", "values": [40, 50, 60, 70, 80, 90, 100, 110], "grid": true, "minExtent": 45, "maxExtent": 45}
        },
        "color": {
          "field": "zon", "type": "nominal",
          "scale": {"domain": ["SE-N", "NO-S"], "range": ["#1f77b4", "#ff9896"]},
          "legend": {
            "title": null, "orient": "top-right", "direction": "horizontal", "offset": 8,
            "symbolType": "M-1.5,0H1.5", "symbolStrokeWidth": 2.5, "symbolSize": 576, "symbolOffset": 6,
            "labelFontSize": 15.3, "labelColor": "black", "labelFont": "DejaVu Sans", "labelOffset": 19,
            "columnPadding": 36, "padding": 6, "strokeColor": "#cccccc", "fillColor": "white", "cornerRadius": 4
          }
        }
      }
    },
    {
      "width": 1518,
      "height": 359,
      "data": {"name": "bot"},
      "encoding": {
        "x": {
          "field": "t", "type": "temporal",
          "scale": {"type": "utc", "domain": [{"year": 2022, "month": 11, "date": 7, "utc": true}, {"year": 2026, "month": 2, "date": 24, "hours": 12, "utc": true}]},
          "axis": {
            "title": null, "grid": true, "labelPadding": 6, "labelLineHeight": 23, "labelBaseline": "top",
            "labelExpr": "[utcFormat(datum.value, '%b'), utcFormat(datum.value, '%Y')]",
            "values": [
              {"year": 2023, "month": 1, "date": 1, "utc": true}, {"year": 2023, "month": 4, "date": 1, "utc": true}, {"year": 2023, "month": 7, "date": 1, "utc": true}, {"year": 2023, "month": 10, "date": 1, "utc": true},
              {"year": 2024, "month": 1, "date": 1, "utc": true}, {"year": 2024, "month": 4, "date": 1, "utc": true}, {"year": 2024, "month": 7, "date": 1, "utc": true}, {"year": 2024, "month": 10, "date": 1, "utc": true},
              {"year": 2025, "month": 1, "date": 1, "utc": true}, {"year": 2025, "month": 4, "date": 1, "utc": true}, {"year": 2025, "month": 7, "date": 1, "utc": true}, {"year": 2025, "month": 10, "date": 1, "utc": true},
              {"year": 2026, "month": 1, "date": 1, "utc": true}
            ]
          }
        }
      },
      "layer": [
        {
          "transform": [{"filter": "datum.gs > 0"}],
          "mark": {"type": "area", "color": "#1f77b4", "opacity": 0.18},
          "encoding": {
            "y": {
              "field": "sa", "type": "quantitative", "title": "fyllnadsgrad, %",
              "scale": {"domain": [9.1, 94.75], "nice": false, "zero": false},
              "axis": {"title": "fyllnadsgrad, %", "values": [10, 20, 30, 40, 50, 60, 70, 80, 90], "grid": true, "minExtent": 45, "maxExtent": 45}
            },
            "y2": {"field": "sn"},
            "detail": {"field": "gs", "type": "nominal"}
          }
        },
        {
          "transform": [{"filter": "datum.gn > 0"}],
          "mark": {"type": "area", "color": "#ff9896", "opacity": 0.22},
          "encoding": {
            "y": {"field": "na", "type": "quantitative", "title": "fyllnadsgrad, %"},
            "y2": {"field": "nn"},
            "detail": {"field": "gn", "type": "nominal"}
          }
        },
        {
          "mark": {"type": "line", "color": "#1f77b4", "strokeWidth": 1.6, "strokeDash": [2, 3], "opacity": 0.8},
          "encoding": {"y": {"field": "sn", "type": "quantitative", "title": "fyllnadsgrad, %"}}
        },
        {
          "mark": {"type": "line", "color": "#ff9896", "strokeWidth": 1.6, "strokeDash": [2, 3], "opacity": 0.8},
          "encoding": {"y": {"field": "nn", "type": "quantitative", "title": "fyllnadsgrad, %"}}
        },
        {
          "mark": {"type": "line", "color": "#1f77b4", "strokeWidth": 2.5, "strokeJoin": "round"},
          "encoding": {"y": {"field": "sa", "type": "quantitative", "title": "fyllnadsgrad, %"}}
        },
        {
          "mark": {"type": "line", "color": "#ff9896", "strokeWidth": 2.5, "strokeJoin": "round"},
          "encoding": {"y": {"field": "na", "type": "quantitative", "title": "fyllnadsgrad, %"}}
        },
        {
          "data": {"name": "note"},
          "mark": {"type": "text", "align": "left", "baseline": "middle", "fontSize": 15.3, "color": "#444444", "font": "DejaVu Sans"},
          "encoding": {
            "y": {"field": "v", "type": "quantitative", "title": "fyllnadsgrad, %"},
            "text": {"field": "txt"}
          }
        }
      ]
    }
  ]
}
